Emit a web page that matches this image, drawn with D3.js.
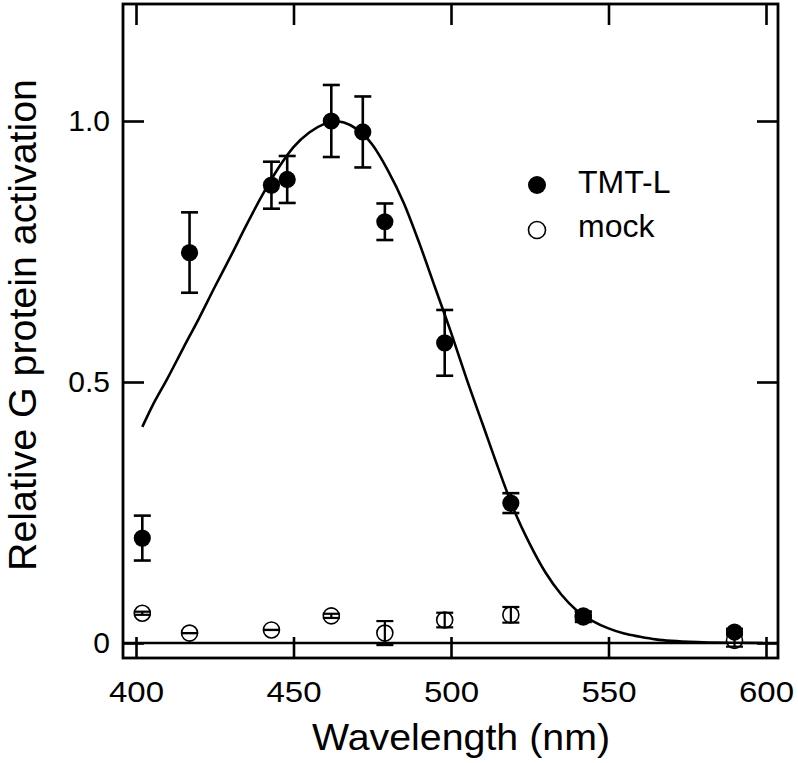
<!DOCTYPE html>
<html>
<head>
<meta charset="utf-8">
<script src="https://cdn.jsdelivr.net/npm/d3@7"></script>
<style>
  html, body { margin: 0; padding: 0; background: #fff; }
  svg { display: block; }
  text { font-family: "Liberation Sans", Arial, sans-serif; fill: #000; }
</style>
</head>
<body>
<svg id="chart" width="798" height="763"></svg>
<script>
// ---- data ----
const tmtWavelengths = [402, 417, 443, 448, 462, 472, 479, 498, 519, 542, 590];
const tmtValues      = [0.201, 0.748, 0.877, 0.888, 1.0, 0.979, 0.807, 0.575, 0.268, 0.052, 0.021];
const tmtErrors      = [0.043, 0.077, 0.045, 0.045, 0.069, 0.068, 0.035, 0.063, 0.019, 0.008, 0.006];

const mockWavelengths = [402, 417, 443, 462, 479, 498, 519, 542, 590];
const mockValues      = [0.057, 0.019, 0.025, 0.052, 0.019, 0.044, 0.054, 0.050, 0.005];
const mockErrors      = [0.003, 0.0, 0.0, 0.004, 0.023, 0.014, 0.015, 0.010, 0.012];

// fitted template curve
const curveWavelengths = [402, 405, 410, 415, 420, 425, 430, 435, 440, 445, 450, 455, 460, 463, 466, 470, 475, 480, 485, 490, 495, 500, 505, 510, 515, 520, 525, 530, 535, 540, 545, 550, 555, 560, 565, 570, 580, 590, 599];
const curveValues      = [0.414, 0.452, 0.507, 0.565, 0.622, 0.682, 0.740, 0.800, 0.857, 0.908, 0.950, 0.978, 0.995, 1.000, 0.997, 0.985, 0.955, 0.905, 0.843, 0.765, 0.680, 0.595, 0.505, 0.420, 0.335, 0.255, 0.190, 0.135, 0.093, 0.062, 0.042, 0.028, 0.018, 0.012, 0.007, 0.004, 0.0015, 0.0005, 0.0001];

const xTicks = [400, 450, 500, 550, 600];
const yTicks = [0, 0.5, 1.0];
const yTickLabels = ["0", "0.5", "1.0"];
const seriesNames = ["TMT-L", "mock"];
const xTitle = "Wavelength (nm)";
const yTitle = "Relative G protein activation";

// ---- layout ----
const frame = { left: 123, right: 778, top: 4, bottom: 658 };
const x = d3.scaleLinear().domain([400, 600]).range([136, 766]);
const y = d3.scaleLinear().domain([0, 1]).range([643, 121]);

const svg = d3.select("#chart");
const g = svg.append("g");

// axes (inside ticks on all four sides)
const tickLen = 21;
const bottomAxis = g.append("g").attr("transform", `translate(0,${frame.bottom})`)
  .call(d3.axisBottom(x).tickValues(xTicks).tickSizeInner(-tickLen).tickSizeOuter(0).tickPadding(23).tickFormat(d3.format("d")));
const topAxis = g.append("g").attr("transform", `translate(0,${frame.top})`)
  .call(d3.axisTop(x).tickValues(xTicks).tickSizeInner(-tickLen).tickSizeOuter(0).tickFormat(""));
const leftAxis = g.append("g").attr("transform", `translate(${frame.left},0)`)
  .call(d3.axisLeft(y).tickValues(yTicks).tickSizeInner(-tickLen).tickSizeOuter(0).tickPadding(13)
    .tickFormat((d, i) => yTickLabels[i]));
const rightAxis = g.append("g").attr("transform", `translate(${frame.right},0)`)
  .call(d3.axisRight(y).tickValues(yTicks).tickSizeInner(-tickLen).tickSizeOuter(0).tickFormat(""));

[bottomAxis, topAxis, leftAxis, rightAxis].forEach(a => {
  a.select(".domain").remove();
  a.selectAll(".tick line").attr("stroke", "#000").attr("stroke-width", 2.6);
  a.selectAll("text").attr("font-size", 30).attr("font-family", "Liberation Sans, Arial, sans-serif").attr("fill", "#000");
});
// reference digits are slightly wider than Liberation Sans
bottomAxis.selectAll("text").each(function () {
  const len = this.getComputedTextLength();
  d3.select(this).attr("textLength", len * 1.1).attr("lengthAdjust", "spacingAndGlyphs");
});

// frame
g.append("rect")
  .attr("x", frame.left).attr("y", frame.top)
  .attr("width", frame.right - frame.left).attr("height", frame.bottom - frame.top)
  .attr("fill", "none").attr("stroke", "#000").attr("stroke-width", 2.8);

// zero line
g.append("line")
  .attr("x1", frame.left).attr("x2", frame.right)
  .attr("y1", y(0)).attr("y2", y(0))
  .attr("stroke", "#000").attr("stroke-width", 2.6);

// mock series (open circles)
const mock = mockWavelengths.map((w, i) => ({ w, v: mockValues[i], e: mockErrors[i] }));
const capHalf = 8.5;
const mg = g.append("g");
mg.selectAll("circle").data(mock).join("circle")
  .attr("cx", d => x(d.w)).attr("cy", d => y(d.v)).attr("r", 8)
  .attr("fill", "#fff").attr("stroke", "#000").attr("stroke-width", 1.6);
mock.forEach(d => {
  const eb = mg.append("g").attr("stroke", "#000").attr("stroke-width", 2.2);
  eb.append("line").attr("x1", x(d.w)).attr("x2", x(d.w)).attr("y1", y(d.v - d.e)).attr("y2", y(d.v + d.e));
  eb.append("line").attr("x1", x(d.w) - capHalf).attr("x2", x(d.w) + capHalf).attr("y1", y(d.v + d.e)).attr("y2", y(d.v + d.e));
  eb.append("line").attr("x1", x(d.w) - capHalf).attr("x2", x(d.w) + capHalf).attr("y1", y(d.v - d.e)).attr("y2", y(d.v - d.e));
});

// fitted curve
const curveData = curveWavelengths.map((w, i) => ({ w, v: curveValues[i] }));
g.append("path").datum(curveData)
  .attr("fill", "none").attr("stroke", "#000").attr("stroke-width", 2.6)
  .attr("d", d3.line().x(d => x(d.w)).y(d => y(d.v)).curve(d3.curveMonotoneX));

// TMT-L series (filled circles with error bars)
const tmt = tmtWavelengths.map((w, i) => ({ w, v: tmtValues[i], e: tmtErrors[i] }));
const tg = g.append("g");
tmt.forEach(d => {
  const eb = tg.append("g").attr("stroke", "#000").attr("stroke-width", 2.6);
  eb.append("line").attr("x1", x(d.w)).attr("x2", x(d.w)).attr("y1", y(d.v - d.e)).attr("y2", y(d.v + d.e));
  eb.append("line").attr("x1", x(d.w) - capHalf).attr("x2", x(d.w) + capHalf).attr("y1", y(d.v + d.e)).attr("y2", y(d.v + d.e));
  eb.append("line").attr("x1", x(d.w) - capHalf).attr("x2", x(d.w) + capHalf).attr("y1", y(d.v - d.e)).attr("y2", y(d.v - d.e));
});
tg.selectAll("circle").data(tmt).join("circle")
  .attr("cx", d => x(d.w)).attr("cy", d => y(d.v)).attr("r", 8.6)
  .attr("fill", "#000");

// legend
const legend = g.append("g");
legend.append("circle").attr("cx", 537).attr("cy", 185).attr("r", 9).attr("fill", "#000");
legend.append("text").attr("x", 578).attr("y", 193).attr("font-size", 32).text(seriesNames[0]);
legend.append("circle").attr("cx", 537).attr("cy", 230).attr("r", 8.5).attr("fill", "#fff").attr("stroke", "#000").attr("stroke-width", 1.6);
legend.append("text").attr("x", 578).attr("y", 237).attr("font-size", 32).text(seriesNames[1]);

// axis titles
g.append("text").attr("x", 461).attr("y", 750).attr("text-anchor", "middle").attr("font-size", 37)
  .attr("textLength", 298).attr("lengthAdjust", "spacingAndGlyphs").text(xTitle);
g.append("text").attr("transform", "translate(36,325) rotate(-90)").attr("text-anchor", "middle").attr("font-size", 39)
  .attr("textLength", 492).attr("lengthAdjust", "spacingAndGlyphs").text(yTitle);
</script>
</body>
</html>
